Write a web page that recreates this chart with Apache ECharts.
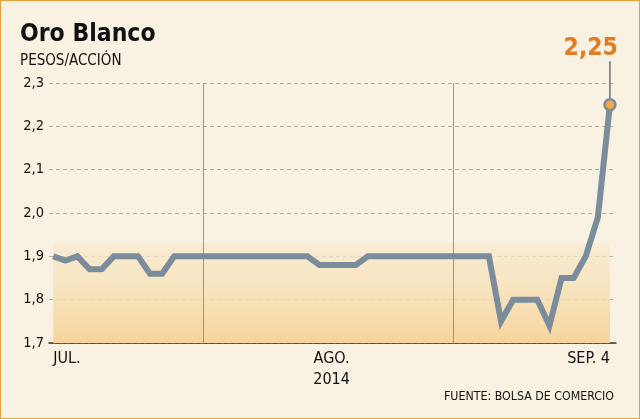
<!DOCTYPE html>
<html>
<head>
<meta charset="utf-8">
<script src="https://cdn.jsdelivr.net/npm/echarts@6/dist/echarts.min.js"></script>
<style>
html,body{margin:0;padding:0;background:#f9f1e1;}
#c{width:640px;height:419px;box-sizing:border-box;border:1.5px solid #e3a23d;}
</style>
</head>
<body>
<div id="c"></div>
<script>
// Daily closing prices (trading days, 1 Jul - 4 Sep 2014)
const prices = [1.90,1.89,1.90,1.87,1.87,1.90,1.90,1.90,1.86,1.86,
  1.90,1.90,1.90,1.90,1.90,1.90,1.90,1.90,1.90,1.90,1.90,1.90,
  1.88,1.88,1.88,1.88,
  1.90,1.90,1.90,1.90,1.90,1.90,1.90,1.90,1.90,1.90,1.90,
  1.75,1.80,1.80,1.80,1.74,1.85,1.85,1.90,1.99,2.25];
const tickIndex = [0, 23, 46];
const tickLabels = ['JUL.', 'AGO.\n2014', 'SEP. 4'];
const monthDividers = [12.36, 33.07];
const yTicks = {min: 1.7, max: 2.3, interval: 0.1};
const bandTop = 1.93;
const leaderTop = 2.35;
const title = 'Oro Blanco';
const subtitle = 'PESOS/ACCIÓN';
const source = 'FUENTE: BOLSA DE COMERCIO';

const FONT = "'DejaVu Sans Condensed', 'DejaVu Sans', sans-serif";
const fmt = v => v.toFixed(2).replace(/0$/, '').replace('.', ',');
const lastIdx = prices.length - 1;
const lastVal = prices[lastIdx];

const chart = echarts.init(document.getElementById('c'), null, {renderer: 'canvas'});
chart.setOption({
  backgroundColor: '#f9f1e1',
  animation: false,
  title: [
    {text: title, left: 14, top: 16,
     textStyle: {fontFamily: FONT, fontWeight: 'bold', fontSize: 24.5, color: '#111'}},
    {text: subtitle, left: 14, top: 48,
     textStyle: {fontFamily: FONT, fontWeight: 'normal', fontSize: 15, color: '#111'}},
    {text: source, right: 20, top: 385,
     textStyle: {fontFamily: FONT, fontWeight: 'normal', fontSize: 12.3, color: '#111'}}
  ],
  grid: {left: 48, right: 23, top: 82, bottom: 75},
  xAxis: {
    type: 'value', min: -0.35, max: 46.5,
    splitLine: {show: false},
    axisTick: {show: false},
    axisLine: {show: true, onZero: false, lineStyle: {color: '#333', width: 1.5}},
    axisLabel: {
      customValues: tickIndex,
      formatter: v => tickLabels[tickIndex.indexOf(Math.round(v))] || '',
      alignMinLabel: 'left', alignMaxLabel: 'right',
      margin: 5, lineHeight: 21,
      fontFamily: FONT, fontSize: 16, color: '#111'
    }
  },
  yAxis: {
    type: 'value', min: yTicks.min, max: yTicks.max, interval: yTicks.interval,
    axisLine: {show: false}, axisTick: {show: false},
    axisLabel: {formatter: v => v.toFixed(1).replace('.', ','), margin: 5,
      fontFamily: FONT, fontSize: 14.5, color: '#111'},
    splitLine: {show: true, lineStyle: {color: '#b5aea3', type: [4, 3], width: 1}}
  },
  series: [{
    type: 'line',
    data: prices.map((v, i) => [i, v]),
    symbol: 'none',
    clip: false,
    lineStyle: {color: '#7b8c9c', width: 6, join: 'miter'},
    z: 5,
    markArea: {
      silent: true,
      itemStyle: {color: {type: 'linear', x: 0, y: 0, x2: 0, y2: 1, colorStops: [
        {offset: 0, color: 'rgba(248,234,206,0.7)'},
        {offset: 1, color: '#f6d59c'}]}},
      data: [[{xAxis: 0, yAxis: yTicks.min}, {xAxis: lastIdx, yAxis: bandTop}]]
    },
    markLine: {
      silent: true, symbol: 'none',
      label: {show: false},
      lineStyle: {color: '#9a9590', width: 1, type: 'solid'},
      data: monthDividers.map(x => ({xAxis: x}))
    },
    markPoint: {
      silent: true,
      symbol: 'circle', symbolSize: 11,
      itemStyle: {color: '#f0aa48', borderColor: '#7b8c9c', borderWidth: 2.5},
      label: {show: false},
      z: 10,
      data: [{coord: [lastIdx, lastVal]}]
    }
  }]
});

// Leader line + value label for the last close, positioned via the chart's own scales
const pEnd = chart.convertToPixel({gridIndex: 0}, [lastIdx, lastVal]);
const pTop = chart.convertToPixel({gridIndex: 0}, [lastIdx, leaderTop]);
chart.setOption({
  graphic: [
    {type: 'line', z: 4, silent: true,
     shape: {x1: pEnd[0], y1: pEnd[1], x2: pTop[0], y2: pTop[1]},
     style: {stroke: '#6e6e6e', lineWidth: 1.5}},
    {type: 'text', z: 6, silent: true, x: pTop[0] + 8, y: pTop[1],
     style: {text: fmt(lastVal), align: 'right', verticalAlign: 'bottom',
       font: "bold 24.5px " + FONT, fill: '#e37b22'}}
  ]
});
</script>
</body>
</html>
